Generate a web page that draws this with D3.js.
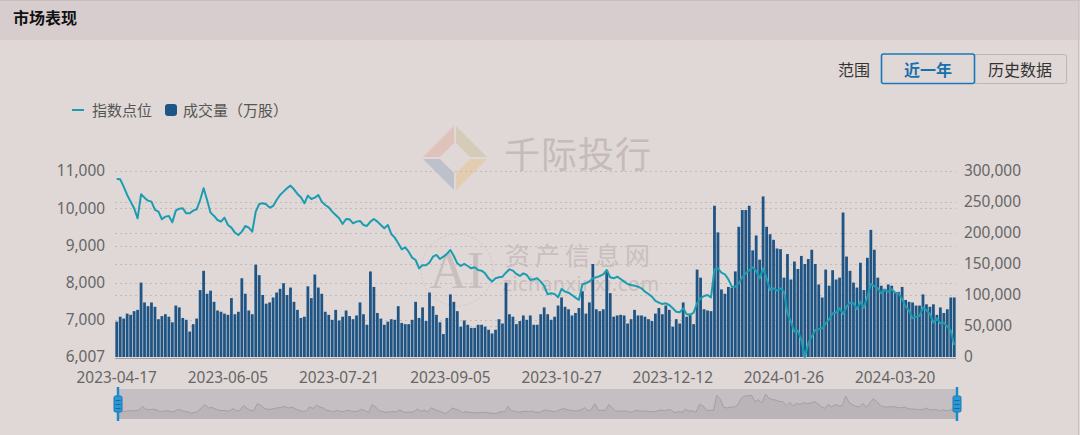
<!DOCTYPE html>
<html><head><meta charset="utf-8">
<script src="https://cdn.jsdelivr.net/npm/d3@7"></script>
<style>
html,body{margin:0;padding:0;background:#e0d8d6;}
svg{display:block;font-family:"Noto Sans","Noto Sans CJK SC",sans-serif;}
</style>
</head><body><svg id="c" width="1080" height="435"></svg>
<script>
const dates = [
"2023-04-17","2023-04-18","2023-04-19","2023-04-20","2023-04-21","2023-04-24","2023-04-25","2023-04-26","2023-04-27","2023-04-28",
"2023-05-04","2023-05-05","2023-05-08","2023-05-09","2023-05-10","2023-05-11","2023-05-12","2023-05-15","2023-05-16","2023-05-17",
"2023-05-18","2023-05-19","2023-05-22","2023-05-23","2023-05-24","2023-05-25","2023-05-26","2023-05-29","2023-05-30","2023-05-31",
"2023-06-01","2023-06-02","2023-06-05","2023-06-06","2023-06-07","2023-06-08","2023-06-09","2023-06-12","2023-06-13","2023-06-14",
"2023-06-15","2023-06-16","2023-06-19","2023-06-20","2023-06-21","2023-06-26","2023-06-27","2023-06-28","2023-06-29","2023-06-30",
"2023-07-03","2023-07-04","2023-07-05","2023-07-06","2023-07-07","2023-07-10","2023-07-11","2023-07-12","2023-07-13","2023-07-14",
"2023-07-17","2023-07-18","2023-07-19","2023-07-20","2023-07-21","2023-07-24","2023-07-25","2023-07-26","2023-07-27","2023-07-28",
"2023-07-31","2023-08-01","2023-08-02","2023-08-03","2023-08-04","2023-08-07","2023-08-08","2023-08-09","2023-08-10","2023-08-11",
"2023-08-14","2023-08-15","2023-08-16","2023-08-17","2023-08-18","2023-08-21","2023-08-22","2023-08-23","2023-08-24","2023-08-25",
"2023-08-28","2023-08-29","2023-08-30","2023-08-31","2023-09-01","2023-09-04","2023-09-05","2023-09-06","2023-09-07","2023-09-08",
"2023-09-11","2023-09-12","2023-09-13","2023-09-14","2023-09-15","2023-09-18","2023-09-19","2023-09-20","2023-09-21","2023-09-22",
"2023-09-25","2023-09-26","2023-09-27","2023-09-28","2023-10-09","2023-10-10","2023-10-11","2023-10-12","2023-10-13","2023-10-16",
"2023-10-17","2023-10-18","2023-10-19","2023-10-20","2023-10-23","2023-10-24","2023-10-25","2023-10-26","2023-10-27","2023-10-30",
"2023-10-31","2023-11-01","2023-11-02","2023-11-03","2023-11-06","2023-11-07","2023-11-08","2023-11-09","2023-11-10","2023-11-13",
"2023-11-14","2023-11-15","2023-11-16","2023-11-17","2023-11-20","2023-11-21","2023-11-22","2023-11-23","2023-11-24","2023-11-27",
"2023-11-28","2023-11-29","2023-11-30","2023-12-01","2023-12-04","2023-12-05","2023-12-06","2023-12-07","2023-12-08","2023-12-11",
"2023-12-12","2023-12-13","2023-12-14","2023-12-15","2023-12-18","2023-12-19","2023-12-20","2023-12-21","2023-12-22","2023-12-25",
"2023-12-26","2023-12-27","2023-12-28","2023-12-29","2024-01-02","2024-01-03","2024-01-04","2024-01-05","2024-01-08","2024-01-09",
"2024-01-10","2024-01-11","2024-01-12","2024-01-15","2024-01-16","2024-01-17","2024-01-18","2024-01-19","2024-01-22","2024-01-23",
"2024-01-24","2024-01-25","2024-01-26","2024-01-29","2024-01-30","2024-01-31","2024-02-01","2024-02-02","2024-02-05","2024-02-06",
"2024-02-07","2024-02-08","2024-02-19","2024-02-20","2024-02-21","2024-02-22","2024-02-23","2024-02-26","2024-02-27","2024-02-28",
"2024-02-29","2024-03-01","2024-03-04","2024-03-05","2024-03-06","2024-03-07","2024-03-08","2024-03-11","2024-03-12","2024-03-13",
"2024-03-14","2024-03-15","2024-03-18","2024-03-19","2024-03-20","2024-03-21","2024-03-22","2024-03-25","2024-03-26","2024-03-27",
"2024-03-28","2024-03-29","2024-04-01","2024-04-02","2024-04-03","2024-04-08","2024-04-09","2024-04-10","2024-04-11","2024-04-12",
"2024-04-15","2024-04-16"
];

// 指数点位
const indexValues = [
10786,10777,10580,10357,10178,9999,9730,10375,10285,10204,
10178,9954,9909,9704,9775,9793,9623,9936,9990,9999,
9864,9864,9936,9972,10222,10536,10222,9882,9793,9685,
9641,9748,9551,9479,9345,9283,9372,9524,9479,9372,
9909,10115,10133,10106,10017,10061,10222,10357,10446,10536,
10607,10509,10384,10294,10133,10339,10249,10285,10357,10178,
10088,10025,9909,9820,9730,9578,9712,9704,9596,9641,
9659,9551,9524,9641,9712,9641,9551,9462,9551,9310,
9211,9059,8898,8952,8835,8674,8611,8388,8470,8470,
8545,8701,8746,8638,8701,8773,8880,8719,8522,8450,
8504,8450,8388,8415,8343,8325,8253,8119,8030,8119,
8146,8164,8271,8361,8325,8236,8182,8253,8209,8074,
8092,8119,8030,7913,7690,7716,7699,7609,7833,7761,
7734,7672,7600,7537,7958,7985,8030,8119,8146,8182,
8227,8343,8146,8119,8164,8101,8030,7967,7940,7922,
7895,7851,7761,7699,7627,7511,7466,7430,7448,7403,
7314,7224,7206,7314,7153,7135,7197,7448,7582,7645,
7672,7609,8361,8388,8271,8227,8092,7895,7895,7985,
8146,8253,8343,8415,8316,8119,8388,8119,7806,7851,
7788,7851,7761,7179,6956,6687,6714,6463,6007,6374,
6553,6732,6750,6777,6911,7018,7179,7197,7314,7162,
7359,7466,7448,7287,7493,7332,7627,7967,7913,7851,
7716,7806,7761,7824,7734,7716,7555,7359,7251,7045,
7090,7108,7332,7269,7162,6929,7045,6911,6929,6822,
6714,6329
];

// 成交量（万股）
const volumeValues = [
57000,65000,62000,70000,68000,74000,76000,120000,88000,82000,
88000,81000,61000,66000,69000,65000,56000,83000,80000,63000,
60000,41000,53000,62000,108000,139000,102000,107000,89000,75000,
73000,70000,68000,95000,69000,73000,127000,102000,75000,69000,
149000,132000,100000,86000,88000,96000,104000,110000,119000,100000,
112000,89000,76000,63000,65000,114000,95000,133000,112000,102000,
73000,68000,60000,76000,59000,65000,75000,66000,61000,67000,
88000,69000,52000,138000,113000,71000,62000,52000,57000,61000,
60000,82000,55000,53000,53000,60000,89000,63000,80000,58000,
104000,82000,68000,56000,37000,63000,101000,89000,74000,49000,
59000,52000,47000,47000,52000,52000,49000,44000,38000,44000,
61000,54000,120000,69000,65000,53000,58000,67000,60000,67000,
52000,52000,69000,80000,69000,60000,65000,83000,96000,81000,
77000,67000,71000,79000,106000,70000,88000,150000,77000,74000,
77000,140000,103000,65000,67000,68000,67000,54000,61000,76000,
67000,67000,65000,61000,58000,70000,79000,69000,83000,76000,
49000,61000,54000,88000,65000,70000,53000,141000,128000,77000,
75000,74000,244000,201000,109000,102000,113000,112000,138000,210000,
237000,237000,244000,172000,196000,157000,259000,210000,198000,189000,
175000,174000,128000,166000,125000,154000,142000,163000,150000,158000,
173000,150000,117000,96000,141000,115000,140000,125000,128000,233000,
162000,139000,120000,112000,152000,108000,160000,205000,173000,128000,
115000,110000,117000,115000,104000,105000,113000,92000,89000,88000,
83000,83000,101000,85000,81000,85000,68000,80000,71000,77000,
96000,96000
];

const leftTicks = [6007, 7000, 8000, 9000, 10000, 11000];
const rightTicks = [0, 50000, 100000, 150000, 200000, 250000, 300000];
const xTickDates = ["2023-04-17","2023-06-05","2023-07-21","2023-09-05","2023-10-27","2023-12-12","2024-01-26","2024-03-20"];
const legendNames = ["指数点位", "成交量（万股）"];
const rangeButtons = ["近一年", "历史数据"];

const svg = d3.select("#c");
const W = 1080, H = 435;
const plot = {left: 115, right: 956, top: 171, bottom: 357};
const lineColor = "#1b9db1", barColor = "#1f5585";
const cjk = "Noto Sans CJK SC";

// header
svg.append("rect").attr("x",0).attr("y",0).attr("width",W).attr("height",H).attr("fill","#e0d8d6");
svg.append("rect").attr("x",0).attr("y",0).attr("width",W).attr("height",40).attr("fill","#d8cdce");
svg.append("line").attr("x1",0).attr("x2",W).attr("y1",0.5).attr("y2",0.5).attr("stroke","#c9bebe");
svg.append("line").attr("x1",W-1.5).attr("x2",W-1.5).attr("y1",0).attr("y2",H).attr("stroke","#cbc2c2");
svg.append("text").attr("x",13).attr("y",24).attr("font-size",16).attr("font-weight","bold")
  .attr("font-family",cjk).attr("fill","#111").text("市场表现");

// range buttons
svg.append("text").attr("x",838).attr("y",76).attr("font-size",16).attr("font-family",cjk).attr("fill","#333").text("范围");
svg.append("rect").attr("x",974.5).attr("y",54.5).attr("width",92).attr("height",29).attr("rx",2)
  .attr("fill","none").attr("stroke","#bdb5b5");
svg.append("rect").attr("x",881.5).attr("y",54).attr("width",93).attr("height",29.5).attr("rx",2)
  .attr("fill","none").attr("stroke","#1a78b8").attr("stroke-width",1.6);
svg.append("text").attr("x",928).attr("y",76).attr("text-anchor","middle").attr("font-size",16).attr("font-weight","bold")
  .attr("font-family",cjk).attr("fill","#1a6fae").text(rangeButtons[0]);
svg.append("text").attr("x",1020).attr("y",76).attr("text-anchor","middle").attr("font-size",16)
  .attr("font-family",cjk).attr("fill","#333").text(rangeButtons[1]);

// legend
svg.append("line").attr("x1",72).attr("x2",84).attr("y1",110).attr("y2",110).attr("stroke",lineColor).attr("stroke-width",2);
svg.append("text").attr("x",92).attr("y",115.5).attr("font-size",15).attr("font-family",cjk).attr("fill","#555").text(legendNames[0]);
svg.append("rect").attr("x",165).attr("y",104).attr("width",12).attr("height",12).attr("rx",3).attr("fill",barColor);
svg.append("text").attr("x",183).attr("y",115.5).attr("font-size",15).attr("font-family",cjk).attr("fill","#555").text(legendNames[1]);

// watermarks
const wm = svg.append("g").attr("opacity",0.6);
const cx = 455, cy = 158, R = 32, r = 15;
wm.append("path").attr("d",`M${cx-R},${cy-1} L${cx-1},${cy-R} L${cx-1},${cy-r} L${cx-r},${cy-1} Z`).attr("fill","#dfb4a6");
wm.append("path").attr("d",`M${cx+1},${cy-R} L${cx+R},${cy-1} L${cx+r},${cy-1} L${cx+1},${cy-r} Z`).attr("fill","#cec3a6");
wm.append("path").attr("d",`M${cx+R},${cy+1} L${cx+1},${cy+R} L${cx+1},${cy+r} L${cx+r},${cy+1} Z`).attr("fill","#e6c596");
wm.append("path").attr("d",`M${cx-1},${cy+R} L${cx-R},${cy+1} L${cx-r},${cy+1} L${cx-1},${cy+r} Z`).attr("fill","#a6b2c6");
wm.append("text").attr("x",578).attr("y",168).attr("text-anchor","middle").attr("font-size",36)
  .attr("font-family",cjk).attr("fill","#b3a8a8").attr("letter-spacing",1).text("千际投行");
wm.append("circle").attr("cx",457).attr("cy",270).attr("r",36).attr("fill","none").attr("stroke","#c4baba").attr("stroke-dasharray","2,2");
wm.append("text").attr("x",457).attr("y",288).attr("text-anchor","middle").attr("font-size",52)
  .attr("font-family","Liberation Serif").attr("fill","#b9afaf").text("AI");
wm.append("text").attr("x",580).attr("y",265).attr("text-anchor","middle").attr("font-size",25)
  .attr("font-family",cjk).attr("fill","#b9afaf").attr("letter-spacing",5).text("资产信息网");
wm.append("text").attr("x",581).attr("y",291).attr("text-anchor","middle").attr("font-size",20)
  .attr("font-family","Noto Sans").attr("fill","#b9afaf").attr("letter-spacing",0.5).text("zichanxinxi.com");

// scales
const x = d3.scaleBand().domain(dates).range([plot.left, plot.right]).paddingInner(0.2).paddingOuter(0.1);
const yL = d3.scaleLinear().domain([6007, 11000]).range([plot.bottom, plot.top]);
const yR = d3.scaleLinear().domain([0, 300000]).range([plot.bottom, plot.top]);

// grid
const grid = svg.append("g");
leftTicks.slice(1).forEach(t => grid.append("line").attr("x1",plot.left).attr("x2",plot.right)
  .attr("y1",Math.round(yL(t))+0.5).attr("y2",Math.round(yL(t))+0.5).attr("stroke","#c3b9b9").attr("stroke-dasharray","2,3"));
rightTicks.slice(1).forEach(t => grid.append("line").attr("x1",plot.left).attr("x2",plot.right)
  .attr("y1",Math.round(yR(t))+0.5).attr("y2",Math.round(yR(t))+0.5).attr("stroke","#c3b9b9").attr("stroke-dasharray","2,3"));

// bars
svg.append("g").selectAll("rect").data(volumeValues).join("rect")
  .attr("x",(d,i)=>x(dates[i])).attr("width",x.bandwidth())
  .attr("y",d=>yR(d)).attr("height",d=>plot.bottom-yR(d)).attr("fill",barColor);

// x axis line
svg.append("line").attr("x1",plot.left).attr("x2",plot.right).attr("y1",plot.bottom+1.5).attr("y2",plot.bottom+1.5).attr("stroke","#a59c9c");

// line
const line = d3.line().x((d,i)=>x(dates[i])+x.bandwidth()/2).y(d=>yL(d));
svg.append("path").datum(indexValues).attr("d",line).attr("fill","none").attr("stroke",lineColor).attr("stroke-width",2).attr("stroke-linejoin","round");

// axes
const fs = 15.4;
const axL = d3.axisLeft(yL).tickValues(leftTicks).tickSize(0).tickPadding(0).tickFormat(d3.format(","));
const gL = svg.append("g").attr("transform",`translate(${plot.left-10},0)`).call(axL);
gL.select(".domain").remove();
gL.selectAll("text").attr("font-size",fs).attr("fill","#666").attr("font-family","Noto Sans");

const axR = d3.axisRight(yR).tickValues(rightTicks).tickSize(0).tickPadding(0).tickFormat(d3.format(","));
const gR = svg.append("g").attr("transform",`translate(${plot.right+8},0)`).call(axR);
gR.select(".domain").remove();
gR.selectAll("text").attr("font-size",fs).attr("fill","#666").attr("font-family","Noto Sans");

const axB = d3.axisBottom(x).tickValues(xTickDates).tickSize(0).tickPadding(0);
const gB = svg.append("g").attr("transform",`translate(0,${plot.bottom+15})`).call(axB);
gB.select(".domain").remove();
gB.selectAll("text").attr("font-size",fs).attr("fill","#666").attr("font-family","Noto Sans");

// data zoom slider
const sz = {left:118, right:957, top:389, bottom:419};
svg.append("rect").attr("x",sz.left).attr("y",sz.top).attr("width",sz.right-sz.left).attr("height",sz.bottom-sz.top).attr("fill","#c5bec2");
const xs = d3.scalePoint().domain(dates).range([sz.left, sz.right]);
const ys = d3.scaleLinear().domain([0, d3.max(volumeValues)]).range([417, 394]);
const area = d3.area().x((d,i)=>xs(dates[i])).y0(sz.bottom).y1(d=>ys(d));
svg.append("path").datum(volumeValues).attr("d",area).attr("fill","#bab3b8");
svg.append("path").datum(volumeValues).attr("d",d3.line().x((d,i)=>xs(dates[i])).y(d=>ys(d)))
  .attr("fill","none").attr("stroke","#a59ea4").attr("stroke-width",1);
[sz.left, sz.right].forEach(hx => {
  const g = svg.append("g");
  g.append("line").attr("x1",hx).attr("x2",hx).attr("y1",387).attr("y2",421).attr("stroke","#1a8ccc").attr("stroke-width",2.5);
  g.append("rect").attr("x",hx-4).attr("y",396).attr("width",8).attr("height",16).attr("rx",1.5)
    .attr("fill","#2b98d6").attr("stroke","#1a7ab8").attr("stroke-width",1);
  [400.5,404.5,408.5].forEach(ly => g.append("line").attr("x1",hx-2.5).attr("x2",hx+2.5).attr("y1",ly).attr("y2",ly).attr("stroke","#16679c").attr("stroke-width",1));
});
</script>
</body></html>
